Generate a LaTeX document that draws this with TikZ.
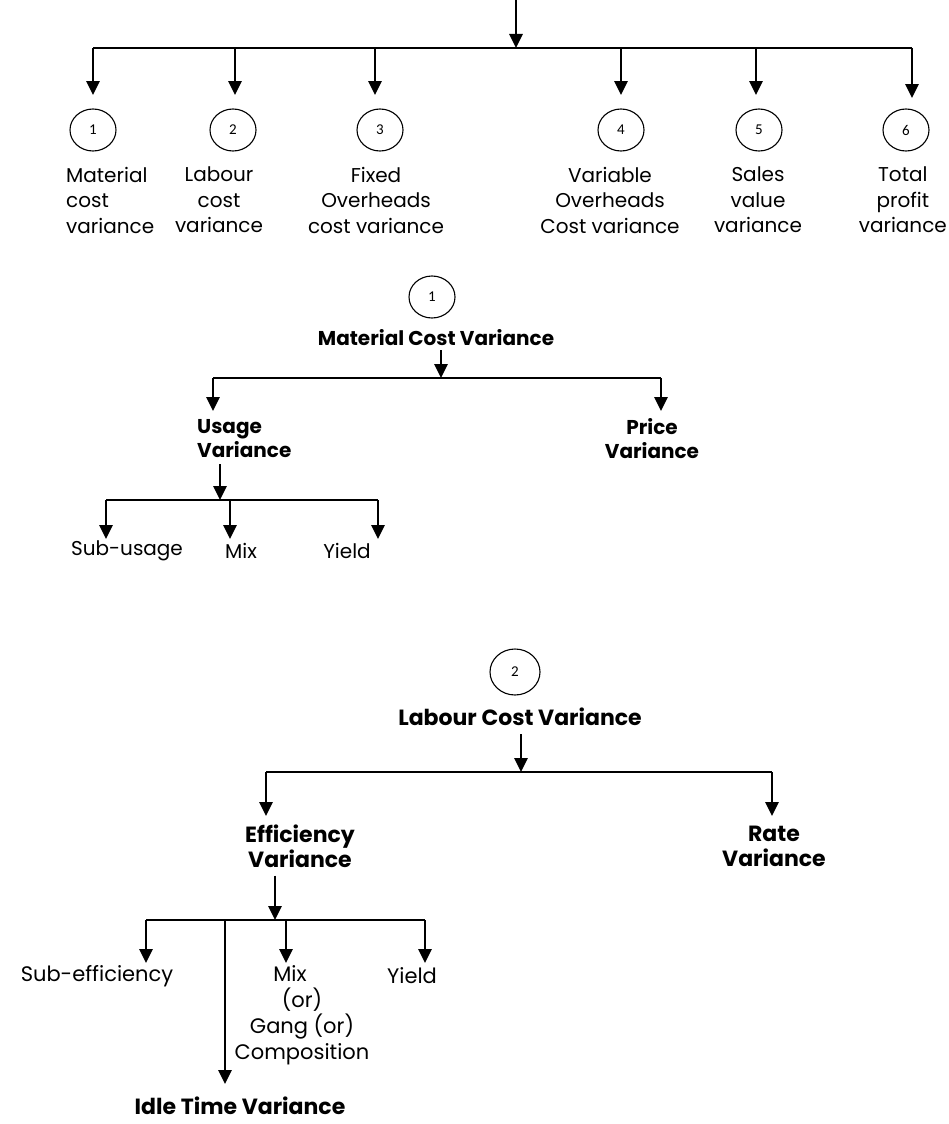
\documentclass[tikz,border=0pt]{standalone}
\usepackage{fontspec}
\setmainfont{Poppins}
\newfontfamily\numfont{Carlito}
\usetikzlibrary{arrows.meta,shapes.geometric}
\begin{document}
\begin{tikzpicture}[x=1pt,y=-1pt,
  bus/.style={line width=1.7pt},
  arr/.style={line width=2.8pt,-{Triangle[length=14pt,width=13pt]}},
  num/.style={draw,line width=1.1pt,ellipse,minimum width=46pt,minimum height=42pt,inner sep=0pt,font=\numfont\fontsize{15}{16}\selectfont},
  lab/.style={font=\fontsize{20}{25.5}\selectfont,align=center,inner sep=0pt},
  lab2/.style={font=\fontsize{21}{26}\selectfont,align=center,inner sep=0pt},
  blab/.style={font=\bfseries\fontsize{20}{24}\selectfont,align=center,inner sep=0pt},
  blab2/.style={font=\bfseries\fontsize{22}{25}\selectfont,align=center,inner sep=0pt}
]
\useasboundingbox (0,0) rectangle (949,1124);

% ---------- top level ----------
\coordinate (top) at (516,0);
\coordinate (tb) at (516,48);
\coordinate (tbL) at (93,48);
\coordinate (tbR) at (912,48);
\draw[arr] (top) -- (tb);
\draw[bus] (tbL) -- (tbR);

\node[num] (n1) at (93,130) {1};
\node[num] (n2) at (233,130) {2};
\node[num] (n3) at (380,130) {3};
\node[num] (n4) at (621,130) {4};
\node[num] (n5) at (759,130) {5};
\node[num] (n6) at (906,130) {6};

\coordinate (a1) at (93,48);
\coordinate (a2) at (235,48);
\coordinate (a3) at (375,48);
\coordinate (a4) at (621,48);
\coordinate (a5) at (756,48);
\coordinate (a6) at (912,48);
\coordinate (t1) at (93,95);
\coordinate (t2) at (235,95);
\coordinate (t3) at (375,95);
\coordinate (t4) at (621,95);
\coordinate (t5) at (756,95);
\coordinate (t6) at (912,98);
\foreach \i in {1,...,6} {\draw[arr] (a\i) -- (t\i);}

\node[lab,anchor=west,align=left] (l1) at (66,200) {Material\\cost\\variance};
\node[lab] (l2) at (219,200) {Labour\\cost\\variance};
\node[lab] (l3) at (376,200) {Fixed\\Overheads\\cost variance};
\node[lab] (l4) at (610,200) {Variable\\Overheads\\Cost variance};
\node[lab] (l5) at (758,200) {Sales\\value\\variance};
\node[lab,anchor=east] (l6) at (947,200) {Total\\profit\\variance};

% ---------- Material cost variance ----------
\node[num] (m1) at (432,297) {1};
\node[blab] (mcv) at (436,338) {Material Cost Variance};
\coordinate (mb) at (441,378);
\coordinate (mbL) at (213,378);
\coordinate (mbR) at (661,378);
\coordinate (mtL) at (213,411);
\coordinate (mtR) at (661,411);
\draw[arr] (mb |- mcv.south) ++(0,4) -- (mb);
\draw[bus] (mbL) -- (mbR);
\draw[arr] (mbL) -- (mtL);
\draw[arr] (mbR) -- (mtR);
\node[blab,anchor=west,align=left] (usage) at (197,439) {Usage\\Variance};
\node[blab] (price) at (652,439) {Price\\Variance};

\coordinate (ub) at (220,500);
\coordinate (ubL) at (106,500);
\coordinate (ubR) at (378,500);
\coordinate (ubM) at (230,500);
\draw[arr] (ub |- usage.south) ++(0,6) -- (ub);
\draw[bus] (ubL) -- (ubR);
\coordinate (utL) at (106,539);
\coordinate (utM) at (230,539);
\coordinate (utR) at (378,539);
\draw[arr] (ubL) -- (utL);
\draw[arr] (ubM) -- (utM);
\draw[arr] (ubR) -- (utR);
\node[lab] (subu) at (127,551) {Sub-usage};
\node[lab] (mix1) at (241,551) {Mix};
\node[lab] (yld1) at (347,551) {Yield};

% ---------- Labour cost variance ----------
\node[num,minimum width=50pt,minimum height=46pt] (c2) at (515,672) {2};
\node[blab2] (lcv) at (520,717) {Labour Cost Variance};
\coordinate (lb) at (521,772);
\coordinate (lbL) at (266,772);
\coordinate (lbR) at (772,772);
\coordinate (ltL) at (266,816);
\coordinate (ltR) at (772,816);
\draw[arr] (lb |- lcv.south) ++(0,8) -- (lb);
\draw[bus] (lbL) -- (lbR);
\draw[arr] (lbL) -- (ltL);
\draw[arr] (lbR) -- (ltR);
\node[blab2] (eff) at (300,846) {Efficiency\\Variance};
\node[blab2] (rate) at (774,846) {Rate\\Variance};

\coordinate (eb) at (275,920);
\coordinate (ebL) at (146,920);
\coordinate (ebR) at (425,920);
\coordinate (ebM) at (286,920);
\coordinate (ebI) at (225,920);
\draw[arr] (eb |- eff.south) ++(0,8) -- (eb);
\draw[bus] (ebL) -- (ebR);
\coordinate (etL) at (146,963);
\coordinate (etM) at (286,963);
\coordinate (etR) at (425,963);
\coordinate (etI) at (225,1084);
\draw[arr] (ebL) -- (etL);
\draw[arr] (ebM) -- (etM);
\draw[arr] (ebR) -- (etR);
\draw[arr] (ebI) -- (etI);
\node[lab2] (sube) at (97,976) {Sub-efficiency};
\node[lab2] (mix2) at (302,1015) {Mix\hspace*{24pt}\\(or)\hspace*{24pt}\\Gang (or)\\Composition};
\node[lab2] (yld2) at (412,976) {Yield};
\node[blab2] (idle) at (240,1106) {Idle Time Variance};
\end{tikzpicture}
\end{document}
